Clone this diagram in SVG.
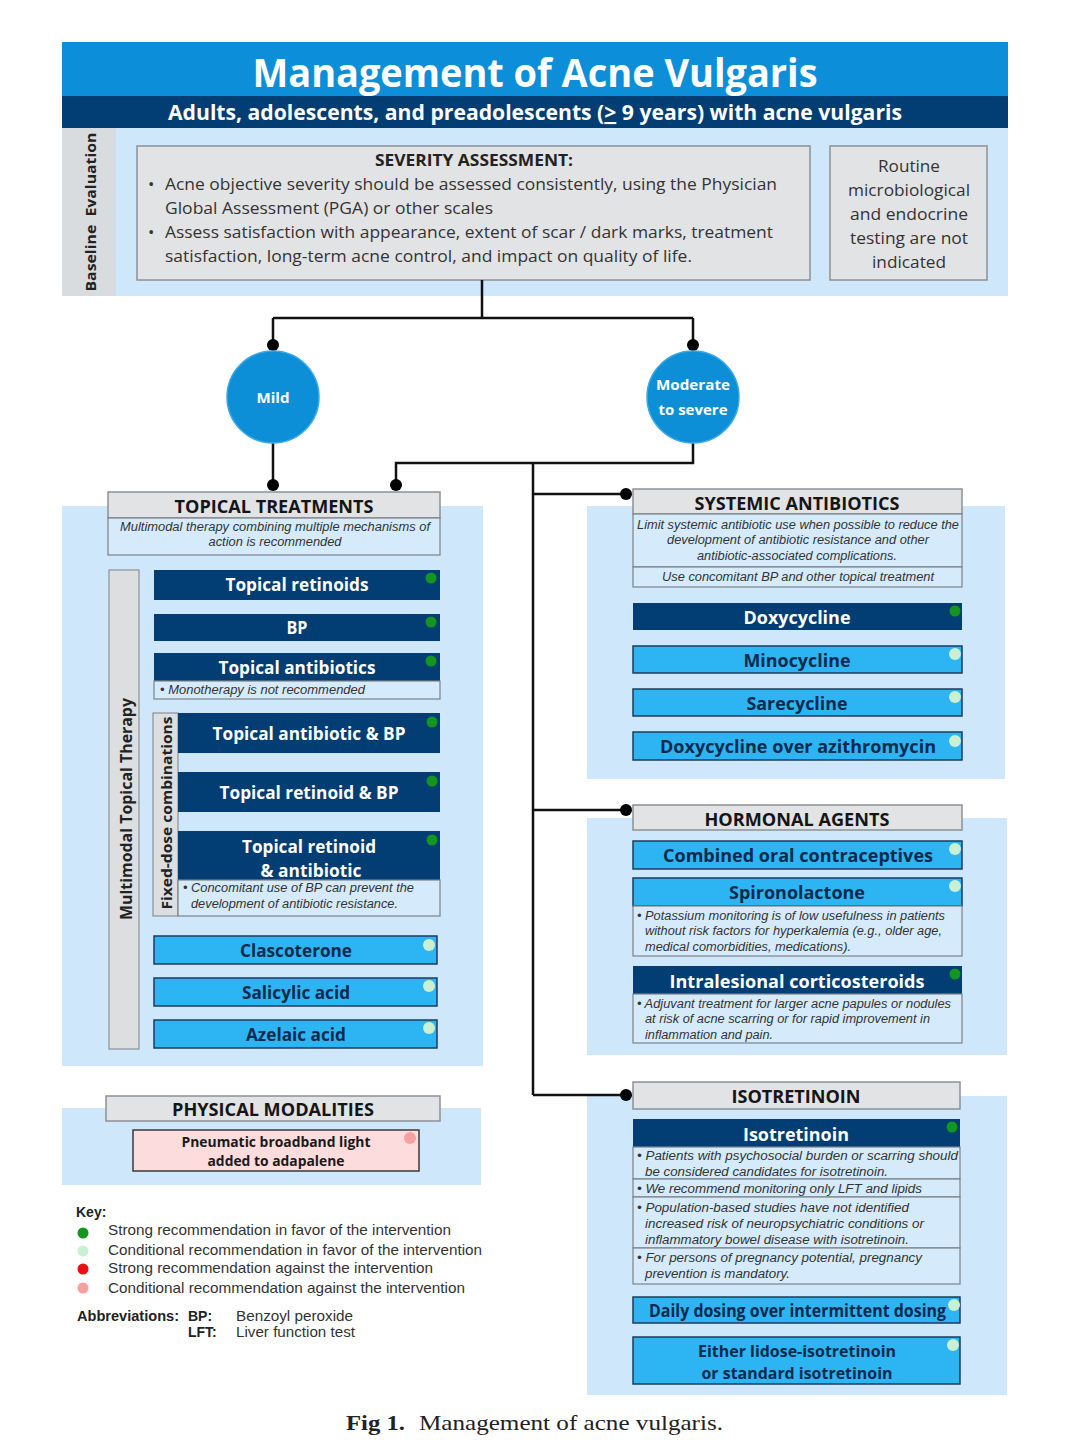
<svg xmlns="http://www.w3.org/2000/svg" width="1080" height="1440" viewBox="0 0 1080 1440">
<defs>
<style>
.bg{fill:#cfe7fa}
.gray{fill:#e2e3e5;stroke:#8c9196;stroke-width:1.5}
.strip{fill:#dcdee0;stroke:#8c9196;stroke-width:1.2}
.dk{fill:#023d73}
.lt{fill:#2cb5f2;stroke:#1d3d5e;stroke-width:1.5}
.note{fill:#d5ebfb;stroke:#7d8287;stroke-width:1.2}
.pink{fill:#fcdcdc;stroke:#3a3a3a;stroke-width:1.5}
.os{font-family:"Open Sans","Noto Sans","DejaVu Sans",sans-serif}
.b{font-weight:700}
.wt{fill:#ffffff;text-anchor:middle}
.nv{fill:#0b2a4e;text-anchor:middle}
.hd{fill:#151515;text-anchor:middle;font-size:18px}
.lab{font-size:17px}
.it{font-family:"Liberation Sans",Arial,sans-serif;font-style:italic;fill:#333;font-size:12.5px}
.sm{font-family:"Liberation Sans",Arial,sans-serif;fill:#333;font-size:14.5px}
.sg{fill:#13961f}
.cg{fill:#c9f0d3}
.sr{fill:#e81010}
.cr{fill:#f6a0a0}
.ln{stroke:#111;stroke-width:2.5;fill:none}
.dot{fill:#000}
.circ{fill:#0d8fd8;stroke:#3aa8e6;stroke-width:1.5}
</style>
</defs>
<rect width="1080" height="1440" fill="#ffffff"/>

<g id="header">
<rect x="62" y="42" width="946" height="54" fill="#0c8fd8"/>
<rect x="62" y="96" width="946" height="32" fill="#023d73"/>
<text class="os b wt" x="535" y="87" font-size="40" textLength="565" lengthAdjust="spacingAndGlyphs">Management of Acne Vulgaris</text>
<text class="os b wt" x="535" y="120" font-size="21" textLength="734" lengthAdjust="spacingAndGlyphs">Adults, adolescents, and preadolescents (<tspan text-decoration="underline">&gt;</tspan> 9 years) with acne vulgaris</text>
</g>

<g id="baseline-evaluation">
<rect class="bg" x="62" y="128" width="946" height="168"/>
<rect x="62" y="128" width="54" height="168" fill="#d9dcdf"/>
<text class="os b" fill="#222" font-size="15" text-anchor="middle" transform="translate(96,212) rotate(-90)" textLength="159" lengthAdjust="spacingAndGlyphs">Baseline&#160;&#160;Evaluation</text>
</g>

<g id="severity-assessment">
<rect class="gray" x="137" y="146" width="673" height="134"/>
<text class="os b" fill="#222" font-size="16" text-anchor="middle" x="474" y="166" textLength="198" lengthAdjust="spacingAndGlyphs">SEVERITY ASSESSMENT:</text>
<g class="os" fill="#333" font-size="17">
<text x="148" y="190">•</text>
<text x="165" y="190" textLength="612" lengthAdjust="spacingAndGlyphs">Acne objective severity should be assessed consistently, using the Physician</text>
<text x="165" y="214" textLength="328" lengthAdjust="spacingAndGlyphs">Global Assessment (PGA) or other scales</text>
<text x="148" y="238">•</text>
<text x="165" y="238" textLength="608" lengthAdjust="spacingAndGlyphs">Assess satisfaction with appearance, extent of scar / dark marks, treatment</text>
<text x="165" y="262" textLength="527" lengthAdjust="spacingAndGlyphs">satisfaction, long-term acne control, and impact on quality of life.</text>
</g>
</g>

<g id="routine-testing">
<rect class="gray" x="830" y="146" width="157" height="134"/>
<g class="os" fill="#333" font-size="17" text-anchor="middle">
<text x="909" y="172" textLength="62" lengthAdjust="spacingAndGlyphs">Routine</text>
<text x="909" y="196" textLength="122" lengthAdjust="spacingAndGlyphs">microbiological</text>
<text x="909" y="220" textLength="118" lengthAdjust="spacingAndGlyphs">and endocrine</text>
<text x="909" y="244" textLength="118" lengthAdjust="spacingAndGlyphs">testing are not</text>
<text x="909" y="268" textLength="74" lengthAdjust="spacingAndGlyphs">indicated</text>
</g>
</g>

<g id="topical-treatments">
<rect class="bg" x="62" y="506" width="421" height="560"/>
<rect class="gray" x="108" y="492" width="332" height="26"/>
<text class="os b hd" x="274" y="513" textLength="199" lengthAdjust="spacingAndGlyphs">TOPICAL TREATMENTS</text>
<rect class="note" x="108" y="518" width="332" height="37"/>
<text class="it" x="275" y="531" text-anchor="middle" textLength="310" lengthAdjust="spacingAndGlyphs">Multimodal therapy combining multiple mechanisms of</text>
<text class="it" x="275" y="546" text-anchor="middle" textLength="133" lengthAdjust="spacingAndGlyphs">action is recommended</text>
<rect class="strip" x="109" y="570" width="30" height="479"/>
<text class="os b" fill="#222" font-size="16" text-anchor="middle" transform="translate(132,809) rotate(-90)" textLength="222" lengthAdjust="spacingAndGlyphs">Multimodal Topical Therapy</text>
</g>

<g id="topical-retinoids">
<rect class="dk" x="154" y="570" width="286" height="30"/>
<text class="os b wt lab" x="297" y="591" textLength="143" lengthAdjust="spacingAndGlyphs">Topical retinoids</text>
<circle class="sg" cx="431" cy="578" r="5.5"/>
</g>
<g id="bp">
<rect class="dk" x="154" y="614" width="286" height="27"/>
<text class="os b wt lab" x="297" y="634" textLength="21" lengthAdjust="spacingAndGlyphs">BP</text>
<circle class="sg" cx="431" cy="622" r="5.5"/>
</g>
<g id="topical-antibiotics">
<rect class="dk" x="154" y="653" width="286" height="28"/>
<text class="os b wt lab" x="297" y="674" textLength="157" lengthAdjust="spacingAndGlyphs">Topical antibiotics</text>
<circle class="sg" cx="431" cy="661" r="5.5"/>
<rect class="note" x="154" y="681" width="286" height="18"/>
<text class="it" x="160" y="694" textLength="205" lengthAdjust="spacingAndGlyphs">• Monotherapy is not recommended</text>
</g>
<g id="fixed-dose">
<rect class="strip" x="153" y="713" width="25" height="203"/>
<text class="os b" fill="#222" font-size="14" text-anchor="middle" transform="translate(172,813) rotate(-90)" textLength="193" lengthAdjust="spacingAndGlyphs">Fixed-dose combinations</text>
</g>
<g id="topical-antibiotic-bp">
<rect class="dk" x="178" y="713" width="262" height="40"/>
<text class="os b wt lab" x="309" y="740" textLength="193" lengthAdjust="spacingAndGlyphs">Topical antibiotic &amp; BP</text>
<circle class="sg" cx="432" cy="722" r="5.5"/>
</g>
<g id="topical-retinoid-bp">
<rect class="dk" x="178" y="772" width="262" height="40"/>
<text class="os b wt lab" x="309" y="799" textLength="179" lengthAdjust="spacingAndGlyphs">Topical retinoid &amp; BP</text>
<circle class="sg" cx="432" cy="781" r="5.5"/>
</g>
<g id="topical-retinoid-antibiotic">
<rect class="dk" x="178" y="831" width="262" height="49"/>
<text class="os b wt lab" x="309" y="853" textLength="134" lengthAdjust="spacingAndGlyphs">Topical retinoid</text>
<text class="os b wt lab" x="311" y="877" textLength="101" lengthAdjust="spacingAndGlyphs">&amp; antibiotic</text>
<circle class="sg" cx="432" cy="840" r="5.5"/>
<rect class="note" x="178" y="880" width="262" height="36"/>
<text class="it" x="183" y="892" textLength="231" lengthAdjust="spacingAndGlyphs">• Concomitant use of BP can prevent the</text>
<text class="it" x="191" y="908" textLength="207" lengthAdjust="spacingAndGlyphs">development of antibiotic resistance.</text>
</g>
<g id="clascoterone">
<rect class="lt" x="154" y="936" width="283" height="28"/>
<text class="os b nv lab" x="296" y="957" textLength="112" lengthAdjust="spacingAndGlyphs">Clascoterone</text>
<circle class="cg" cx="429" cy="945" r="6"/>
</g>
<g id="salicylic-acid">
<rect class="lt" x="154" y="978" width="283" height="28"/>
<text class="os b nv lab" x="296" y="999" textLength="108" lengthAdjust="spacingAndGlyphs">Salicylic acid</text>
<circle class="cg" cx="429" cy="986" r="6"/>
</g>
<g id="azelaic-acid">
<rect class="lt" x="154" y="1020" width="283" height="28"/>
<text class="os b nv lab" x="296" y="1041" textLength="100" lengthAdjust="spacingAndGlyphs">Azelaic acid</text>
<circle class="cg" cx="429" cy="1028" r="6"/>
</g>

<g id="physical-modalities">
<rect class="bg" x="62" y="1108" width="419" height="77"/>
<rect class="gray" x="106" y="1096" width="334" height="25"/>
<text class="os b hd" x="273" y="1116" textLength="202" lengthAdjust="spacingAndGlyphs">PHYSICAL MODALITIES</text>
</g>
<g id="pneumatic-light">
<rect class="pink" x="133" y="1130" width="286" height="41"/>
<text class="os b" fill="#1a1a1a" font-size="14" text-anchor="middle" x="276" y="1147" textLength="189" lengthAdjust="spacingAndGlyphs">Pneumatic broadband light</text>
<text class="os b" fill="#1a1a1a" font-size="14" text-anchor="middle" x="276" y="1166" textLength="137" lengthAdjust="spacingAndGlyphs">added to adapalene</text>
<circle class="cr" cx="410" cy="1138" r="6"/>
</g>

<g id="key">
<text font-family="Liberation Sans,Arial,sans-serif" font-weight="700" font-size="14" fill="#222" x="76" y="1217">Key:</text>
<circle class="sg" cx="83" cy="1233" r="5.5"/>
<circle class="cg" cx="83" cy="1251" r="5.5"/>
<circle class="sr" cx="83" cy="1269" r="5.5"/>
<circle class="cr" cx="83" cy="1288" r="5.5"/>
<text class="sm" x="108" y="1235" textLength="343" lengthAdjust="spacingAndGlyphs">Strong recommendation in favor of the intervention</text>
<text class="sm" x="108" y="1255" textLength="374" lengthAdjust="spacingAndGlyphs">Conditional recommendation in favor of the intervention</text>
<text class="sm" x="108" y="1273" textLength="325" lengthAdjust="spacingAndGlyphs">Strong recommendation against the intervention</text>
<text class="sm" x="108" y="1293" textLength="357" lengthAdjust="spacingAndGlyphs">Conditional recommendation against the intervention</text>
<g font-family="Liberation Sans,Arial,sans-serif" font-size="14" fill="#222">
<text x="77" y="1321" font-weight="700" textLength="102" lengthAdjust="spacingAndGlyphs">Abbreviations:</text>
<text x="188" y="1321" font-weight="700">BP:</text>
<text x="236" y="1321" fill="#333" textLength="117" lengthAdjust="spacingAndGlyphs">Benzoyl peroxide</text>
<text x="188" y="1337" font-weight="700">LFT:</text>
<text x="236" y="1337" fill="#333" textLength="119" lengthAdjust="spacingAndGlyphs">Liver function test</text>
</g>
</g>

<g id="systemic-antibiotics">
<rect class="bg" x="587" y="506" width="418" height="273"/>
<rect class="gray" x="633" y="489" width="329" height="25"/>
<text class="os b hd" x="797" y="510" textLength="205" lengthAdjust="spacingAndGlyphs">SYSTEMIC ANTIBIOTICS</text>
<rect class="note" x="633" y="514" width="329" height="53"/>
<text class="it" x="798" y="529" text-anchor="middle" textLength="322" lengthAdjust="spacingAndGlyphs">Limit systemic antibiotic use when possible to reduce the</text>
<text class="it" x="798" y="544" text-anchor="middle" textLength="262" lengthAdjust="spacingAndGlyphs">development of antibiotic resistance and other</text>
<text class="it" x="797" y="560" text-anchor="middle" textLength="200" lengthAdjust="spacingAndGlyphs">antibiotic-associated complications.</text>
<rect class="note" x="633" y="567" width="329" height="20"/>
<text class="it" x="798" y="581" text-anchor="middle" textLength="272" lengthAdjust="spacingAndGlyphs">Use concomitant BP and other topical treatment</text>
</g>
<g id="doxycycline">
<rect class="dk" x="633" y="603" width="329" height="27"/>
<text class="os b wt lab" x="797" y="624" textLength="107" lengthAdjust="spacingAndGlyphs">Doxycycline</text>
<circle class="sg" cx="955" cy="611" r="5.5"/>
</g>
<g id="minocycline">
<rect class="lt" x="633" y="646" width="329" height="27"/>
<text class="os b nv lab" x="797" y="667" textLength="107" lengthAdjust="spacingAndGlyphs">Minocycline</text>
<circle class="cg" cx="955" cy="654" r="6"/>
</g>
<g id="sarecycline">
<rect class="lt" x="633" y="689" width="329" height="27"/>
<text class="os b nv lab" x="797" y="710" textLength="101" lengthAdjust="spacingAndGlyphs">Sarecycline</text>
<circle class="cg" cx="955" cy="697" r="6"/>
</g>
<g id="doxycycline-over-azithromycin">
<rect class="lt" x="633" y="732" width="329" height="28"/>
<text class="os b nv lab" x="798" y="753" textLength="276" lengthAdjust="spacingAndGlyphs">Doxycycline over azithromycin</text>
<circle class="cg" cx="955" cy="741" r="6"/>
</g>

<g id="hormonal-agents">
<rect class="bg" x="587" y="818" width="420" height="237"/>
<rect class="gray" x="633" y="805" width="329" height="25"/>
<text class="os b hd" x="797" y="826" textLength="185" lengthAdjust="spacingAndGlyphs">HORMONAL AGENTS</text>
</g>
<g id="combined-oral-contraceptives">
<rect class="lt" x="633" y="841" width="329" height="28"/>
<text class="os b nv lab" x="798" y="862" textLength="270" lengthAdjust="spacingAndGlyphs">Combined oral contraceptives</text>
<circle class="cg" cx="955" cy="849" r="6"/>
</g>
<g id="spironolactone">
<rect class="lt" x="633" y="878" width="329" height="28"/>
<text class="os b nv lab" x="797" y="899" textLength="136" lengthAdjust="spacingAndGlyphs">Spironolactone</text>
<circle class="cg" cx="955" cy="886" r="6"/>
<rect class="note" x="633" y="906" width="329" height="50"/>
<text class="it" x="637" y="920" textLength="308" lengthAdjust="spacingAndGlyphs">• Potassium monitoring is of low usefulness in patients</text>
<text class="it" x="645" y="935" textLength="297" lengthAdjust="spacingAndGlyphs">without risk factors for hyperkalemia (e.g., older age,</text>
<text class="it" x="645" y="951" textLength="206" lengthAdjust="spacingAndGlyphs">medical comorbidities, medications).</text>
</g>
<g id="intralesional-corticosteroids">
<rect class="dk" x="633" y="966" width="329" height="28"/>
<text class="os b wt lab" x="797" y="988" textLength="255" lengthAdjust="spacingAndGlyphs">Intralesional corticosteroids</text>
<circle class="sg" cx="955" cy="974" r="5.5"/>
<rect class="note" x="633" y="994" width="329" height="49"/>
<text class="it" x="637" y="1008" textLength="314" lengthAdjust="spacingAndGlyphs">• Adjuvant treatment for larger acne papules or nodules</text>
<text class="it" x="645" y="1023" textLength="285" lengthAdjust="spacingAndGlyphs">at risk of acne scarring or for rapid improvement in</text>
<text class="it" x="645" y="1039" textLength="128" lengthAdjust="spacingAndGlyphs">inflammation and pain.</text>
</g>

<g id="isotretinoin-section">
<rect class="bg" x="587" y="1096" width="420" height="299"/>
<rect class="gray" x="633" y="1082" width="327" height="27"/>
<text class="os b hd" x="796" y="1103" textLength="129" lengthAdjust="spacingAndGlyphs">ISOTRETINOIN</text>
</g>
<g id="isotretinoin">
<rect class="dk" x="633" y="1119" width="327" height="28"/>
<text class="os b wt lab" x="796" y="1141" textLength="106" lengthAdjust="spacingAndGlyphs">Isotretinoin</text>
<circle class="sg" cx="952" cy="1127" r="5.5"/>
<rect class="note" x="633" y="1147" width="327" height="32"/>
<text class="it" x="637" y="1160" textLength="321" lengthAdjust="spacingAndGlyphs">• Patients with psychosocial burden or scarring should</text>
<text class="it" x="645" y="1176" textLength="243" lengthAdjust="spacingAndGlyphs">be considered candidates for isotretinoin.</text>
<rect class="note" x="633" y="1179" width="327" height="18"/>
<text class="it" x="637" y="1193" textLength="285" lengthAdjust="spacingAndGlyphs">• We recommend monitoring only LFT and lipids</text>
<rect class="note" x="633" y="1197" width="327" height="51"/>
<text class="it" x="637" y="1212" textLength="272" lengthAdjust="spacingAndGlyphs">• Population-based studies have not identified</text>
<text class="it" x="645" y="1228" textLength="279" lengthAdjust="spacingAndGlyphs">increased risk of neuropsychiatric conditions or</text>
<text class="it" x="645" y="1244" textLength="264" lengthAdjust="spacingAndGlyphs">inflammatory bowel disease with isotretinoin.</text>
<rect class="note" x="633" y="1248" width="327" height="36"/>
<text class="it" x="637" y="1262" textLength="285" lengthAdjust="spacingAndGlyphs">• For persons of pregnancy potential, pregnancy</text>
<text class="it" x="645" y="1278" textLength="145" lengthAdjust="spacingAndGlyphs">prevention is mandatory.</text>
</g>
<g id="daily-dosing">
<rect class="lt" x="633" y="1297" width="327" height="26"/>
<text class="os b lab" fill="#0b2a4e" x="649" y="1317" textLength="297" lengthAdjust="spacingAndGlyphs">Daily dosing over intermittent dosing</text>
<circle class="cg" cx="954" cy="1305" r="6"/>
</g>
<g id="lidose-or-standard">
<rect class="lt" x="633" y="1337" width="327" height="47"/>
<text class="os b nv" font-size="16" x="797" y="1357" textLength="198" lengthAdjust="spacingAndGlyphs">Either lidose-isotretinoin</text>
<text class="os b nv" font-size="16" x="797" y="1379" textLength="191" lengthAdjust="spacingAndGlyphs">or standard isotretinoin</text>
<circle class="cg" cx="953" cy="1345" r="6"/>
</g>

<g id="connectors">
<path class="ln" d="M482,280 V318 M273,318 H693 M273,318 V352 M693,318 V352"/>
<path class="ln" d="M273,443 V485"/>
<path class="ln" d="M693,443 V463 H396 V485"/>
<path class="ln" d="M533,463 V1095 M533,494 H626 M533,810 H626 M533,1095 H626"/>
<circle class="dot" cx="273" cy="345" r="6"/>
<circle class="dot" cx="693" cy="345" r="6"/>
<circle class="dot" cx="273" cy="485" r="6"/>
<circle class="dot" cx="396" cy="485" r="6"/>
<circle class="dot" cx="626" cy="494" r="6"/>
<circle class="dot" cx="626" cy="810" r="6"/>
<circle class="dot" cx="626" cy="1095" r="6"/>
</g>

<g id="mild">
<circle class="circ" cx="273" cy="397" r="46"/>
<text class="os b wt" x="273" y="403" font-size="15" textLength="33" lengthAdjust="spacingAndGlyphs">Mild</text>
</g>
<g id="moderate-severe">
<circle class="circ" cx="693" cy="397" r="46"/>
<text class="os b wt" x="693" y="390" font-size="14.5" textLength="74" lengthAdjust="spacingAndGlyphs">Moderate</text>
<text class="os b wt" x="693" y="415" font-size="14.5" textLength="69" lengthAdjust="spacingAndGlyphs">to severe</text>
</g>

<g id="caption" font-family="Liberation Serif,Times New Roman,serif" font-size="22" fill="#222">
<text x="346" y="1430" font-weight="700" textLength="59" lengthAdjust="spacingAndGlyphs">Fig 1.</text>
<text x="419" y="1430" textLength="304" lengthAdjust="spacingAndGlyphs">Management of acne vulgaris.</text>
</g>
</svg>
